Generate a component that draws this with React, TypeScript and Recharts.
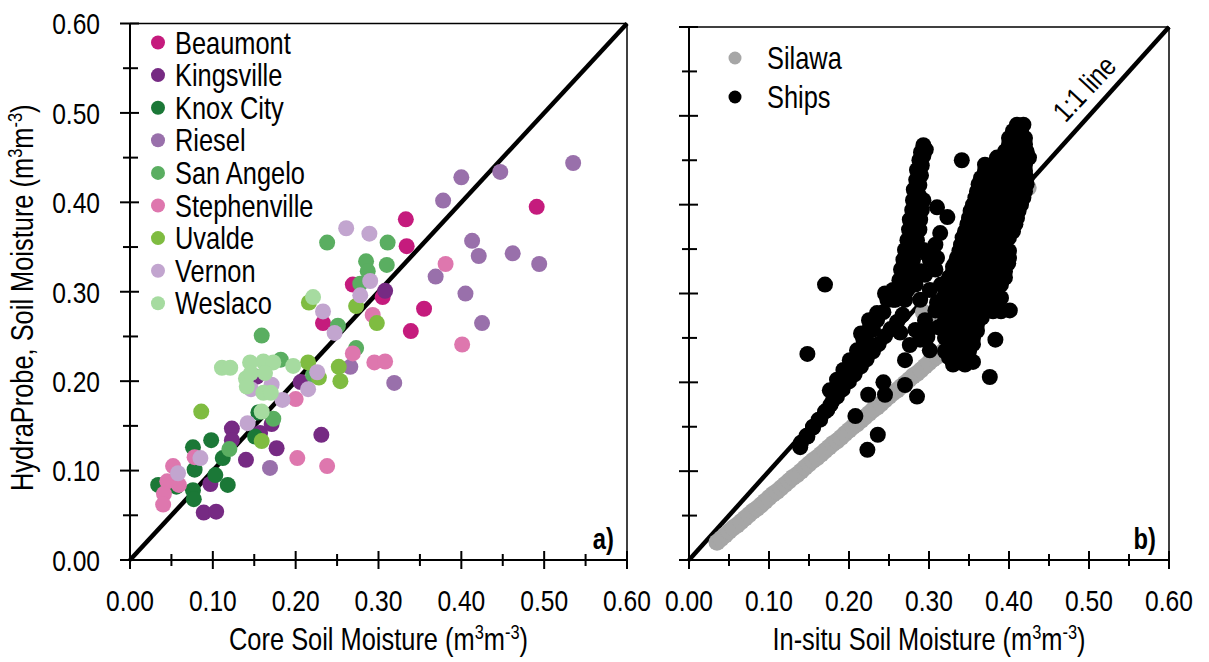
import React from 'react';
import { ScatterChart, Scatter, XAxis, YAxis, ReferenceLine, ReferenceDot, Legend } from 'recharts';

const FONT = "'Liberation Sans', Arial, sans-serif";
const NARROW = 0.82; // Arial Narrow look, squeezed from Liberation Sans

const axisTicks = [0, 0.05, 0.1, 0.15, 0.2, 0.25, 0.3, 0.35, 0.4, 0.45, 0.5, 0.55, 0.6];
const tickLabels = ['0.00', '0.10', '0.20', '0.30', '0.40', '0.50', '0.60'];

type Pt = { x: number; y: number };

// panel a) HydraProbe vs core samples, one list per site
const beaumont: Pt[] = [
  { x: 0.491, y: 0.395 }, { x: 0.333, y: 0.381 }, { x: 0.334, y: 0.351 }, { x: 0.355, y: 0.281 },
  { x: 0.339, y: 0.256 }, { x: 0.305, y: 0.294 }, { x: 0.269, y: 0.308 }, { x: 0.233, y: 0.265 },
];
const kingsville: Pt[] = [
  { x: 0.308, y: 0.301 }, { x: 0.206, y: 0.199 }, { x: 0.123, y: 0.147 }, { x: 0.123, y: 0.134 },
  { x: 0.14, y: 0.112 }, { x: 0.097, y: 0.085 }, { x: 0.089, y: 0.053 }, { x: 0.104, y: 0.054 },
  { x: 0.157, y: 0.142 }, { x: 0.171, y: 0.152 }, { x: 0.177, y: 0.125 }, { x: 0.231, y: 0.14 },
  { x: 0.153, y: 0.205 },
];
const knoxCity: Pt[] = [
  { x: 0.034, y: 0.084 }, { x: 0.056, y: 0.082 }, { x: 0.076, y: 0.126 }, { x: 0.098, y: 0.134 },
  { x: 0.078, y: 0.101 }, { x: 0.103, y: 0.095 }, { x: 0.076, y: 0.078 }, { x: 0.077, y: 0.068 },
  { x: 0.118, y: 0.084 }, { x: 0.112, y: 0.114 }, { x: 0.151, y: 0.138 }, { x: 0.155, y: 0.165 },
];
const riesel: Pt[] = [
  { x: 0.535, y: 0.444 }, { x: 0.447, y: 0.434 }, { x: 0.4, y: 0.428 }, { x: 0.378, y: 0.402 },
  { x: 0.413, y: 0.357 }, { x: 0.421, y: 0.34 }, { x: 0.462, y: 0.343 }, { x: 0.494, y: 0.331 },
  { x: 0.369, y: 0.317 }, { x: 0.405, y: 0.298 }, { x: 0.425, y: 0.265 }, { x: 0.319, y: 0.198 },
  { x: 0.266, y: 0.216 }, { x: 0.169, y: 0.103 },
];
const sanAngelo: Pt[] = [
  { x: 0.238, y: 0.355 }, { x: 0.311, y: 0.355 }, { x: 0.31, y: 0.33 }, { x: 0.285, y: 0.334 },
  { x: 0.287, y: 0.323 }, { x: 0.278, y: 0.309 }, { x: 0.251, y: 0.262 }, { x: 0.273, y: 0.237 },
  { x: 0.159, y: 0.251 }, { x: 0.182, y: 0.224 }, { x: 0.173, y: 0.158 }, { x: 0.12, y: 0.124 },
  { x: 0.221, y: 0.207 },
];
const stephenville: Pt[] = [
  { x: 0.381, y: 0.331 }, { x: 0.401, y: 0.241 }, { x: 0.293, y: 0.274 }, { x: 0.269, y: 0.231 },
  { x: 0.295, y: 0.221 }, { x: 0.308, y: 0.222 }, { x: 0.2, y: 0.18 }, { x: 0.202, y: 0.114 },
  { x: 0.238, y: 0.105 }, { x: 0.078, y: 0.115 }, { x: 0.052, y: 0.105 }, { x: 0.045, y: 0.088 },
  { x: 0.059, y: 0.084 }, { x: 0.041, y: 0.074 }, { x: 0.04, y: 0.062 },
];
const uvalde: Pt[] = [
  { x: 0.216, y: 0.288 }, { x: 0.273, y: 0.284 }, { x: 0.298, y: 0.265 }, { x: 0.215, y: 0.221 },
  { x: 0.252, y: 0.216 }, { x: 0.254, y: 0.2 }, { x: 0.228, y: 0.204 }, { x: 0.159, y: 0.133 },
  { x: 0.086, y: 0.166 },
];
const vernon: Pt[] = [
  { x: 0.261, y: 0.371 }, { x: 0.289, y: 0.365 }, { x: 0.29, y: 0.312 }, { x: 0.278, y: 0.296 },
  { x: 0.233, y: 0.278 }, { x: 0.247, y: 0.254 }, { x: 0.226, y: 0.21 }, { x: 0.215, y: 0.191 },
  { x: 0.184, y: 0.179 }, { x: 0.171, y: 0.196 }, { x: 0.142, y: 0.153 }, { x: 0.085, y: 0.114 },
  { x: 0.058, y: 0.097 }, { x: 0.146, y: 0.191 },
];
const weslaco: Pt[] = [
  { x: 0.221, y: 0.294 }, { x: 0.111, y: 0.215 }, { x: 0.121, y: 0.215 }, { x: 0.145, y: 0.221 },
  { x: 0.161, y: 0.222 }, { x: 0.173, y: 0.221 }, { x: 0.197, y: 0.217 }, { x: 0.14, y: 0.203 },
  { x: 0.146, y: 0.209 }, { x: 0.163, y: 0.209 }, { x: 0.141, y: 0.194 }, { x: 0.161, y: 0.187 },
  { x: 0.17, y: 0.187 }, { x: 0.159, y: 0.166 },
];

const siteNames = ['Beaumont', 'Kingsville', 'Knox City', 'Riesel', 'San Angelo', 'Stephenville', 'Uvalde', 'Vernon', 'Weslaco'];
const siteColors = ['#C51B7D', '#762A83', '#1B7837', '#9970AB', '#5AAE61', '#DE77AE', '#7FBC41', '#C2A5CF', '#A6DBA0'];
const siteData = [beaumont, kingsville, knoxCity, riesel, sanAngelo, stephenville, uvalde, vernon, weslaco];

// panel b) in-situ comparison
const silawa: Pt[] = [
  { x: 0.035, y: 0.02 }, { x: 0.04, y: 0.024 }, { x: 0.045, y: 0.028 }, { x: 0.05, y: 0.032 },
  { x: 0.055, y: 0.036 }, { x: 0.06, y: 0.039 }, { x: 0.065, y: 0.043 }, { x: 0.07, y: 0.047 },
  { x: 0.075, y: 0.051 }, { x: 0.08, y: 0.055 }, { x: 0.085, y: 0.058 }, { x: 0.09, y: 0.062 },
  { x: 0.095, y: 0.066 }, { x: 0.1, y: 0.07 }, { x: 0.105, y: 0.074 }, { x: 0.11, y: 0.077 },
  { x: 0.115, y: 0.081 }, { x: 0.12, y: 0.085 }, { x: 0.125, y: 0.089 }, { x: 0.13, y: 0.093 },
  { x: 0.135, y: 0.096 }, { x: 0.14, y: 0.1 }, { x: 0.145, y: 0.104 }, { x: 0.15, y: 0.108 },
  { x: 0.155, y: 0.112 }, { x: 0.16, y: 0.115 }, { x: 0.165, y: 0.119 }, { x: 0.17, y: 0.123 },
  { x: 0.175, y: 0.127 }, { x: 0.18, y: 0.131 }, { x: 0.185, y: 0.134 }, { x: 0.19, y: 0.138 },
  { x: 0.195, y: 0.142 }, { x: 0.2, y: 0.146 }, { x: 0.205, y: 0.15 }, { x: 0.21, y: 0.153 },
  { x: 0.215, y: 0.157 }, { x: 0.22, y: 0.161 }, { x: 0.225, y: 0.165 }, { x: 0.23, y: 0.169 },
  { x: 0.235, y: 0.172 }, { x: 0.24, y: 0.176 }, { x: 0.245, y: 0.18 }, { x: 0.25, y: 0.184 },
  { x: 0.255, y: 0.188 }, { x: 0.26, y: 0.191 }, { x: 0.265, y: 0.195 }, { x: 0.27, y: 0.199 },
  { x: 0.275, y: 0.203 }, { x: 0.28, y: 0.207 }, { x: 0.285, y: 0.21 }, { x: 0.29, y: 0.214 },
  { x: 0.295, y: 0.218 }, { x: 0.3, y: 0.222 }, { x: 0.305, y: 0.226 }, { x: 0.31, y: 0.229 },
  { x: 0.315, y: 0.233 }, { x: 0.32, y: 0.237 }, { x: 0.33, y: 0.244 }, { x: 0.34, y: 0.252 },
  { x: 0.293, y: 0.279 }, { x: 0.308, y: 0.267 }, { x: 0.329, y: 0.306 }, { x: 0.345, y: 0.325 },
  { x: 0.36, y: 0.345 }, { x: 0.38, y: 0.365 }, { x: 0.4, y: 0.39 }, { x: 0.414, y: 0.405 },
  { x: 0.424, y: 0.419 },
];
const shipsLower: Pt[] = [
  { x: 0.14, y: 0.132 }, { x: 0.147, y: 0.14 }, { x: 0.155, y: 0.15 }, { x: 0.162, y: 0.158 },
  { x: 0.17, y: 0.167 }, { x: 0.177, y: 0.175 }, { x: 0.185, y: 0.184 }, { x: 0.192, y: 0.192 },
  { x: 0.2, y: 0.201 }, { x: 0.207, y: 0.209 }, { x: 0.215, y: 0.218 }, { x: 0.222, y: 0.226 },
  { x: 0.23, y: 0.235 }, { x: 0.237, y: 0.243 }, { x: 0.245, y: 0.252 }, { x: 0.252, y: 0.26 },
  { x: 0.26, y: 0.268 }, { x: 0.267, y: 0.276 },
  { x: 0.139, y: 0.127 }, { x: 0.148, y: 0.139 }, { x: 0.155, y: 0.149 }, { x: 0.164, y: 0.158 },
  { x: 0.173, y: 0.169 }, { x: 0.18, y: 0.18 }, { x: 0.189, y: 0.191 }, { x: 0.198, y: 0.203 },
  { x: 0.205, y: 0.214 }, { x: 0.21, y: 0.225 }, { x: 0.216, y: 0.236 }, { x: 0.223, y: 0.245 },
  { x: 0.23, y: 0.259 }, { x: 0.235, y: 0.27 }, { x: 0.243, y: 0.279 }, { x: 0.255, y: 0.293 },
  { x: 0.264, y: 0.304 }, { x: 0.176, y: 0.191 }, { x: 0.185, y: 0.203 }, { x: 0.193, y: 0.214 },
  { x: 0.201, y: 0.225 }, { x: 0.21, y: 0.236 }, { x: 0.218, y: 0.248 }, { x: 0.226, y: 0.262 },
  { x: 0.235, y: 0.278 }, { x: 0.248, y: 0.293 }, { x: 0.255, y: 0.304 },
  { x: 0.215, y: 0.255 }, { x: 0.225, y: 0.27 }, { x: 0.245, y: 0.3 },
];
const shipsFinger: Pt[] = [
  { x: 0.258, y: 0.293 }, { x: 0.26, y: 0.304 }, { x: 0.263, y: 0.315 }, { x: 0.265, y: 0.327 },
  { x: 0.268, y: 0.338 }, { x: 0.27, y: 0.349 }, { x: 0.273, y: 0.36 }, { x: 0.275, y: 0.372 },
  { x: 0.276, y: 0.383 }, { x: 0.279, y: 0.394 }, { x: 0.28, y: 0.405 }, { x: 0.281, y: 0.417 },
  { x: 0.284, y: 0.428 }, { x: 0.285, y: 0.439 }, { x: 0.288, y: 0.45 }, { x: 0.29, y: 0.459 },
  { x: 0.293, y: 0.467 },
  { x: 0.265, y: 0.298 }, { x: 0.267, y: 0.31 }, { x: 0.27, y: 0.321 }, { x: 0.272, y: 0.332 },
  { x: 0.275, y: 0.343 }, { x: 0.277, y: 0.355 }, { x: 0.28, y: 0.366 }, { x: 0.282, y: 0.377 },
  { x: 0.283, y: 0.388 }, { x: 0.285, y: 0.4 }, { x: 0.287, y: 0.411 }, { x: 0.288, y: 0.422 },
  { x: 0.29, y: 0.433 }, { x: 0.291, y: 0.444 }, { x: 0.293, y: 0.455 }, { x: 0.296, y: 0.462 },
  { x: 0.27, y: 0.293 }, { x: 0.273, y: 0.304 }, { x: 0.275, y: 0.315 }, { x: 0.278, y: 0.327 },
  { x: 0.28, y: 0.338 }, { x: 0.283, y: 0.349 }, { x: 0.285, y: 0.36 }, { x: 0.288, y: 0.372 },
  { x: 0.289, y: 0.383 }, { x: 0.291, y: 0.394 }, { x: 0.293, y: 0.405 },
  { x: 0.283, y: 0.259 }, { x: 0.295, y: 0.27 }, { x: 0.308, y: 0.281 }, { x: 0.289, y: 0.293 },
  { x: 0.301, y: 0.304 }, { x: 0.295, y: 0.321 }, { x: 0.283, y: 0.31 }, { x: 0.308, y: 0.327 },
  { x: 0.301, y: 0.338 }, { x: 0.32, y: 0.27 }, { x: 0.276, y: 0.242 }, { x: 0.301, y: 0.236 },
  { x: 0.3, y: 0.26 }, { x: 0.312, y: 0.262 }, { x: 0.31, y: 0.29 }, { x: 0.315, y: 0.31 },
  { x: 0.29, y: 0.325 }, { x: 0.297, y: 0.345 }, { x: 0.31, y: 0.34 },
];
const shipsCloud: Pt[] = [
  { x: 0.41, y: 0.49 }, { x: 0.418, y: 0.49 },
  { x: 0.405, y: 0.483 }, { x: 0.415, y: 0.483 },
  { x: 0.4, y: 0.475 }, { x: 0.41, y: 0.475 }, { x: 0.42, y: 0.475 },
  { x: 0.4, y: 0.468 }, { x: 0.41, y: 0.468 }, { x: 0.42, y: 0.468 },
  { x: 0.395, y: 0.46 }, { x: 0.405, y: 0.46 }, { x: 0.415, y: 0.46 }, { x: 0.422, y: 0.46 },
  { x: 0.385, y: 0.453 }, { x: 0.395, y: 0.453 }, { x: 0.405, y: 0.453 }, { x: 0.415, y: 0.453 }, { x: 0.425, y: 0.453 },
  { x: 0.37, y: 0.445 }, { x: 0.38, y: 0.445 }, { x: 0.39, y: 0.445 }, { x: 0.4, y: 0.445 }, { x: 0.41, y: 0.445 }, { x: 0.42, y: 0.445 },
  { x: 0.37, y: 0.438 }, { x: 0.38, y: 0.438 }, { x: 0.39, y: 0.438 }, { x: 0.4, y: 0.438 }, { x: 0.41, y: 0.438 }, { x: 0.42, y: 0.438 },
  { x: 0.365, y: 0.43 }, { x: 0.375, y: 0.43 }, { x: 0.385, y: 0.43 }, { x: 0.395, y: 0.43 }, { x: 0.405, y: 0.43 }, { x: 0.415, y: 0.43 }, { x: 0.422, y: 0.43 },
  { x: 0.362, y: 0.423 }, { x: 0.372, y: 0.423 }, { x: 0.382, y: 0.423 }, { x: 0.392, y: 0.423 }, { x: 0.402, y: 0.423 }, { x: 0.412, y: 0.423 }, { x: 0.422, y: 0.423 },
  { x: 0.36, y: 0.415 }, { x: 0.37, y: 0.415 }, { x: 0.38, y: 0.415 }, { x: 0.39, y: 0.415 }, { x: 0.4, y: 0.415 }, { x: 0.41, y: 0.415 }, { x: 0.42, y: 0.415 },
  { x: 0.358, y: 0.408 }, { x: 0.368, y: 0.408 }, { x: 0.378, y: 0.408 }, { x: 0.388, y: 0.408 }, { x: 0.398, y: 0.408 }, { x: 0.408, y: 0.408 }, { x: 0.418, y: 0.408 },
  { x: 0.355, y: 0.4 }, { x: 0.365, y: 0.4 }, { x: 0.375, y: 0.4 }, { x: 0.385, y: 0.4 }, { x: 0.395, y: 0.4 }, { x: 0.405, y: 0.4 }, { x: 0.415, y: 0.4 },
  { x: 0.352, y: 0.393 }, { x: 0.362, y: 0.393 }, { x: 0.372, y: 0.393 }, { x: 0.382, y: 0.393 }, { x: 0.392, y: 0.393 }, { x: 0.402, y: 0.393 }, { x: 0.412, y: 0.393 },
  { x: 0.35, y: 0.385 }, { x: 0.36, y: 0.385 }, { x: 0.37, y: 0.385 }, { x: 0.38, y: 0.385 }, { x: 0.39, y: 0.385 }, { x: 0.4, y: 0.385 }, { x: 0.41, y: 0.385 },
  { x: 0.348, y: 0.378 }, { x: 0.358, y: 0.378 }, { x: 0.368, y: 0.378 }, { x: 0.378, y: 0.378 }, { x: 0.388, y: 0.378 }, { x: 0.398, y: 0.378 }, { x: 0.408, y: 0.378 },
  { x: 0.345, y: 0.37 }, { x: 0.355, y: 0.37 }, { x: 0.365, y: 0.37 }, { x: 0.375, y: 0.37 }, { x: 0.385, y: 0.37 }, { x: 0.395, y: 0.37 }, { x: 0.405, y: 0.37 },
  { x: 0.342, y: 0.363 }, { x: 0.352, y: 0.363 }, { x: 0.362, y: 0.363 }, { x: 0.372, y: 0.363 }, { x: 0.382, y: 0.363 }, { x: 0.392, y: 0.363 }, { x: 0.4, y: 0.363 },
  { x: 0.34, y: 0.355 }, { x: 0.35, y: 0.355 }, { x: 0.36, y: 0.355 }, { x: 0.37, y: 0.355 }, { x: 0.38, y: 0.355 }, { x: 0.39, y: 0.355 }, { x: 0.395, y: 0.355 },
  { x: 0.338, y: 0.348 }, { x: 0.348, y: 0.348 }, { x: 0.358, y: 0.348 }, { x: 0.368, y: 0.348 }, { x: 0.378, y: 0.348 }, { x: 0.39, y: 0.348 }, { x: 0.4, y: 0.348 },
  { x: 0.335, y: 0.34 }, { x: 0.345, y: 0.34 }, { x: 0.355, y: 0.34 }, { x: 0.365, y: 0.34 }, { x: 0.375, y: 0.34 }, { x: 0.385, y: 0.34 }, { x: 0.4, y: 0.34 },
  { x: 0.332, y: 0.333 }, { x: 0.342, y: 0.333 }, { x: 0.352, y: 0.333 }, { x: 0.362, y: 0.333 }, { x: 0.372, y: 0.333 }, { x: 0.382, y: 0.333 }, { x: 0.392, y: 0.333 },
  { x: 0.33, y: 0.325 }, { x: 0.34, y: 0.325 }, { x: 0.35, y: 0.325 }, { x: 0.36, y: 0.325 }, { x: 0.37, y: 0.325 }, { x: 0.38, y: 0.325 }, { x: 0.395, y: 0.325 },
  { x: 0.325, y: 0.318 }, { x: 0.335, y: 0.318 }, { x: 0.345, y: 0.318 }, { x: 0.355, y: 0.318 }, { x: 0.365, y: 0.318 }, { x: 0.375, y: 0.318 }, { x: 0.385, y: 0.318 }, { x: 0.395, y: 0.318 },
  { x: 0.32, y: 0.31 }, { x: 0.33, y: 0.31 }, { x: 0.34, y: 0.31 }, { x: 0.35, y: 0.31 }, { x: 0.36, y: 0.31 }, { x: 0.37, y: 0.31 }, { x: 0.38, y: 0.31 }, { x: 0.39, y: 0.31 },
  { x: 0.322, y: 0.303 }, { x: 0.332, y: 0.303 }, { x: 0.342, y: 0.303 }, { x: 0.352, y: 0.303 }, { x: 0.362, y: 0.303 }, { x: 0.372, y: 0.303 }, { x: 0.382, y: 0.303 },
  { x: 0.318, y: 0.295 }, { x: 0.328, y: 0.295 }, { x: 0.338, y: 0.295 }, { x: 0.348, y: 0.295 }, { x: 0.358, y: 0.295 }, { x: 0.368, y: 0.295 }, { x: 0.378, y: 0.295 }, { x: 0.39, y: 0.295 },
  { x: 0.322, y: 0.288 }, { x: 0.332, y: 0.288 }, { x: 0.342, y: 0.288 }, { x: 0.352, y: 0.288 }, { x: 0.362, y: 0.288 }, { x: 0.372, y: 0.288 }, { x: 0.384, y: 0.288 },
  { x: 0.318, y: 0.28 }, { x: 0.328, y: 0.28 }, { x: 0.338, y: 0.28 }, { x: 0.348, y: 0.28 }, { x: 0.358, y: 0.28 }, { x: 0.368, y: 0.28 }, { x: 0.38, y: 0.28 }, { x: 0.39, y: 0.28 },
  { x: 0.322, y: 0.273 }, { x: 0.332, y: 0.273 }, { x: 0.344, y: 0.273 }, { x: 0.355, y: 0.273 }, { x: 0.366, y: 0.273 },
  { x: 0.318, y: 0.265 }, { x: 0.328, y: 0.265 }, { x: 0.338, y: 0.265 }, { x: 0.35, y: 0.265 }, { x: 0.36, y: 0.265 },
  { x: 0.322, y: 0.258 }, { x: 0.335, y: 0.258 }, { x: 0.35, y: 0.258 }, { x: 0.36, y: 0.258 },
  { x: 0.32, y: 0.25 }, { x: 0.33, y: 0.25 }, { x: 0.345, y: 0.25 }, { x: 0.355, y: 0.25 },
  { x: 0.325, y: 0.243 }, { x: 0.34, y: 0.243 }, { x: 0.355, y: 0.243 },
  { x: 0.32, y: 0.235 }, { x: 0.335, y: 0.235 }, { x: 0.35, y: 0.235 },
  { x: 0.325, y: 0.228 }, { x: 0.34, y: 0.228 },
  { x: 0.33, y: 0.22 }, { x: 0.345, y: 0.22 },
];
const shipsOutliers: Pt[] = [
  { x: 0.148, y: 0.232 }, { x: 0.17, y: 0.31 }, { x: 0.208, y: 0.162 }, { x: 0.236, y: 0.141 },
  { x: 0.223, y: 0.124 }, { x: 0.285, y: 0.184 }, { x: 0.27, y: 0.197 }, { x: 0.245, y: 0.186 },
  { x: 0.224, y: 0.186 }, { x: 0.243, y: 0.2 }, { x: 0.27, y: 0.225 }, { x: 0.289, y: 0.248 },
  { x: 0.298, y: 0.251 }, { x: 0.264, y: 0.256 }, { x: 0.376, y: 0.206 }, { x: 0.343, y: 0.222 },
  { x: 0.355, y: 0.223 }, { x: 0.335, y: 0.229 }, { x: 0.316, y: 0.289 }, { x: 0.341, y: 0.45 },
  { x: 0.399, y: 0.334 }, { x: 0.401, y: 0.281 }, { x: 0.383, y: 0.248 }, { x: 0.31, y: 0.397 },
  { x: 0.323, y: 0.386 }, { x: 0.314, y: 0.368 }, { x: 0.308, y: 0.355 }, { x: 0.293, y: 0.349 },
  { x: 0.33, y: 0.33 },
];
const ships = [...shipsLower, ...shipsFinger, ...shipsCloud, ...shipsOutliers];

const oneToOne = [{ x: 0, y: 0 }, { x: 0.6, y: 0.6 }];

const isMajor = (v: number) => Math.round(v * 100) % 10 === 0;
const labelFor = (v: number) => tickLabels[Math.round(v * 10)];

// text squeezed horizontally around its anchor
const NText = ({ x, y, rotate = 0, anchor = 'start', size = 30, bold = false, dy, children }: any) => (
  <text
    transform={`translate(${x},${y}) rotate(${rotate}) scale(${NARROW},1)`}
    dy={dy}
    textAnchor={anchor}
    fontFamily={FONT}
    fontSize={size}
    fontWeight={bold ? 'bold' : 'normal'}
    fill="#000"
  >
    {children}
  </text>
);

const YTick = (props: any) => {
  const { x, y, payload, showLabel } = props;
  const major = isMajor(payload.value);
  return (
    <g>
      <line x1={x - (major ? 10 : 7)} x2={x + (major ? 9 : 8)} y1={y} y2={y} stroke="#000" strokeWidth={2} />
      {showLabel && major && (
        <NText x={x - 30} y={y} dy="0.36em" anchor="end" size={30}>{labelFor(payload.value)}</NText>
      )}
    </g>
  );
};

const XTick = (props: any) => {
  const { x, y, payload } = props;
  const major = isMajor(payload.value);
  return (
    <g>
      <line x1={x} x2={x} y1={y - (major ? 9 : 6)} y2={y + (major ? 9 : 6)} stroke="#000" strokeWidth={2} />
      {major && <NText x={x} y={y + 51} anchor="middle" size={30}>{labelFor(payload.value)}</NText>}
    </g>
  );
};

const unitText = (
  <>
    (m<tspan dy={-11} fontSize={20}>3</tspan>
    <tspan dy={11}>m</tspan>
    <tspan dy={-11} fontSize={20}>-3</tspan>
    <tspan dy={11}>)</tspan>
  </>
);

const XTitle = (title: string) => (props: any) => {
  const vb = props.viewBox;
  return (
    <NText x={vb.x + vb.width / 2} y={vb.y + 90} anchor="middle" size={31}>
      {title} {unitText}
    </NText>
  );
};

const YTitle = (props: any) => {
  const vb = props.viewBox;
  return (
    <NText x={vb.x + 33} y={vb.y + vb.height / 2 + 6} rotate={-90} anchor="middle" size={31}>
      HydraProbe, Soil Moisture {unitText}
    </NText>
  );
};

const PanelTag = (tag: string) => (props: any) => {
  const vb = props.viewBox;
  return <NText x={vb.x - 13} y={vb.y - 11} anchor="end" size={29} bold>{tag}</NText>;
};

const LineTag = (props: any) => {
  const vb = props.viewBox;
  return <NText x={vb.x - 9} y={vb.y - 23} rotate={-47} dy="0.36em" anchor="middle" size={29}>1:1 line</NText>;
};

const dot = (r: number, color: string) => (p: any) => <circle cx={p.cx} cy={p.cy} r={r} fill={color} />;

const LegendA = () => (
  <svg width={680} height={662} style={{ position: 'absolute', left: 0, top: 0 }}>
    {siteNames.map((name, i) => (
      <g key={name}>
        <circle cx={158} cy={42.5 + i * 32.6} r={7} fill={siteColors[i]} />
        <NText x={175} y={42.5 + i * 32.6} dy="0.36em" size={31}>{name}</NText>
      </g>
    ))}
  </svg>
);

const LegendB = () => (
  <svg width={549} height={662} style={{ position: 'absolute', left: 0, top: 0 }}>
    <circle cx={75} cy={58} r={6.5} fill="#A6A6A6" />
    <NText x={107} y={58} dy="0.36em" size={31}>Silawa</NText>
    <circle cx={75} cy={97} r={6.5} fill="#000" />
    <NText x={107} y={97} dy="0.36em" size={31}>Ships</NText>
  </svg>
);

const legendWrap = { position: 'absolute' as const, left: 0, top: 0, width: 0, height: 0, pointerEvents: 'none' as const };

export default function App() {
  return (
    <div style={{ position: 'absolute', left: 0, top: 0, width: 1209, height: 662, background: '#fff', overflow: 'hidden' }}>
      <div style={{ position: 'absolute', left: 0, top: 0 }}>
        <ScatterChart width={680} height={662} margin={{ top: 23.5, right: 53, bottom: 0, left: 0 }}>
          <XAxis
            type="number" dataKey="x" domain={[0, 0.6]} ticks={axisTicks} interval={0} height={102}
            tickSize={0} tickMargin={0} tick={<XTick />} axisLine={{ stroke: '#000', strokeWidth: 2 }}
            allowDataOverflow label={{ content: XTitle('Core Soil Moisture') }}
          />
          <YAxis
            type="number" dataKey="y" domain={[0, 0.6]} ticks={axisTicks} interval={0} width={130}
            tickSize={0} tickMargin={0} tick={<YTick showLabel />} axisLine={{ stroke: '#000', strokeWidth: 2 }}
            allowDataOverflow label={{ content: YTitle }}
          />
          <ReferenceLine y={0.6} stroke="#000" strokeWidth={1.5} />
          <ReferenceLine x={0.6} stroke="#000" strokeWidth={1.5} />
          <ReferenceLine segment={oneToOne} stroke="#000" strokeWidth={4.5} />
          {siteNames.map((name, i) => (
            <Scatter key={name} name={name} data={siteData[i]} fill={siteColors[i]} shape={dot(8, siteColors[i])} isAnimationActive={false} />
          ))}
          <ReferenceDot x={0.6} y={0} r={0} ifOverflow="visible" label={{ content: PanelTag('a)') }} />
          <Legend layout="horizontal" verticalAlign="middle" align="center" wrapperStyle={legendWrap} content={<LegendA />} />
        </ScatterChart>
      </div>
      <div style={{ position: 'absolute', left: 660, top: 0 }}>
        <ScatterChart width={549} height={662} margin={{ top: 27, right: 40, bottom: 0, left: 0 }}>
          <XAxis
            type="number" dataKey="x" domain={[0, 0.6]} ticks={axisTicks} interval={0} height={102}
            tickSize={0} tickMargin={0} tick={<XTick />} axisLine={{ stroke: '#000', strokeWidth: 2 }}
            allowDataOverflow label={{ content: XTitle('In-situ Soil Moisture') }}
          />
          <YAxis
            type="number" dataKey="y" domain={[0, 0.6]} ticks={axisTicks} interval={0} width={29}
            tickSize={0} tickMargin={0} tick={<YTick />} axisLine={{ stroke: '#000', strokeWidth: 2 }}
            allowDataOverflow
          />
          <ReferenceLine y={0.6} stroke="#000" strokeWidth={1.5} />
          <ReferenceLine x={0.6} stroke="#000" strokeWidth={1.5} />
          <ReferenceLine segment={oneToOne} stroke="#000" strokeWidth={4.5} />
          <Scatter name="Silawa" data={silawa} fill="#A6A6A6" shape={dot(8.5, '#A6A6A6')} isAnimationActive={false} />
          <Scatter name="Ships" data={ships} fill="#000" shape={dot(8, '#000')} isAnimationActive={false} />
          <ReferenceDot x={0.6} y={0} r={0} ifOverflow="visible" label={{ content: PanelTag('b)') }} />
          <ReferenceDot x={0.505} y={0.505} r={0} ifOverflow="visible" label={{ content: LineTag }} />
          <Legend layout="horizontal" verticalAlign="middle" align="center" wrapperStyle={legendWrap} content={<LegendB />} />
        </ScatterChart>
      </div>
    </div>
  );
}
